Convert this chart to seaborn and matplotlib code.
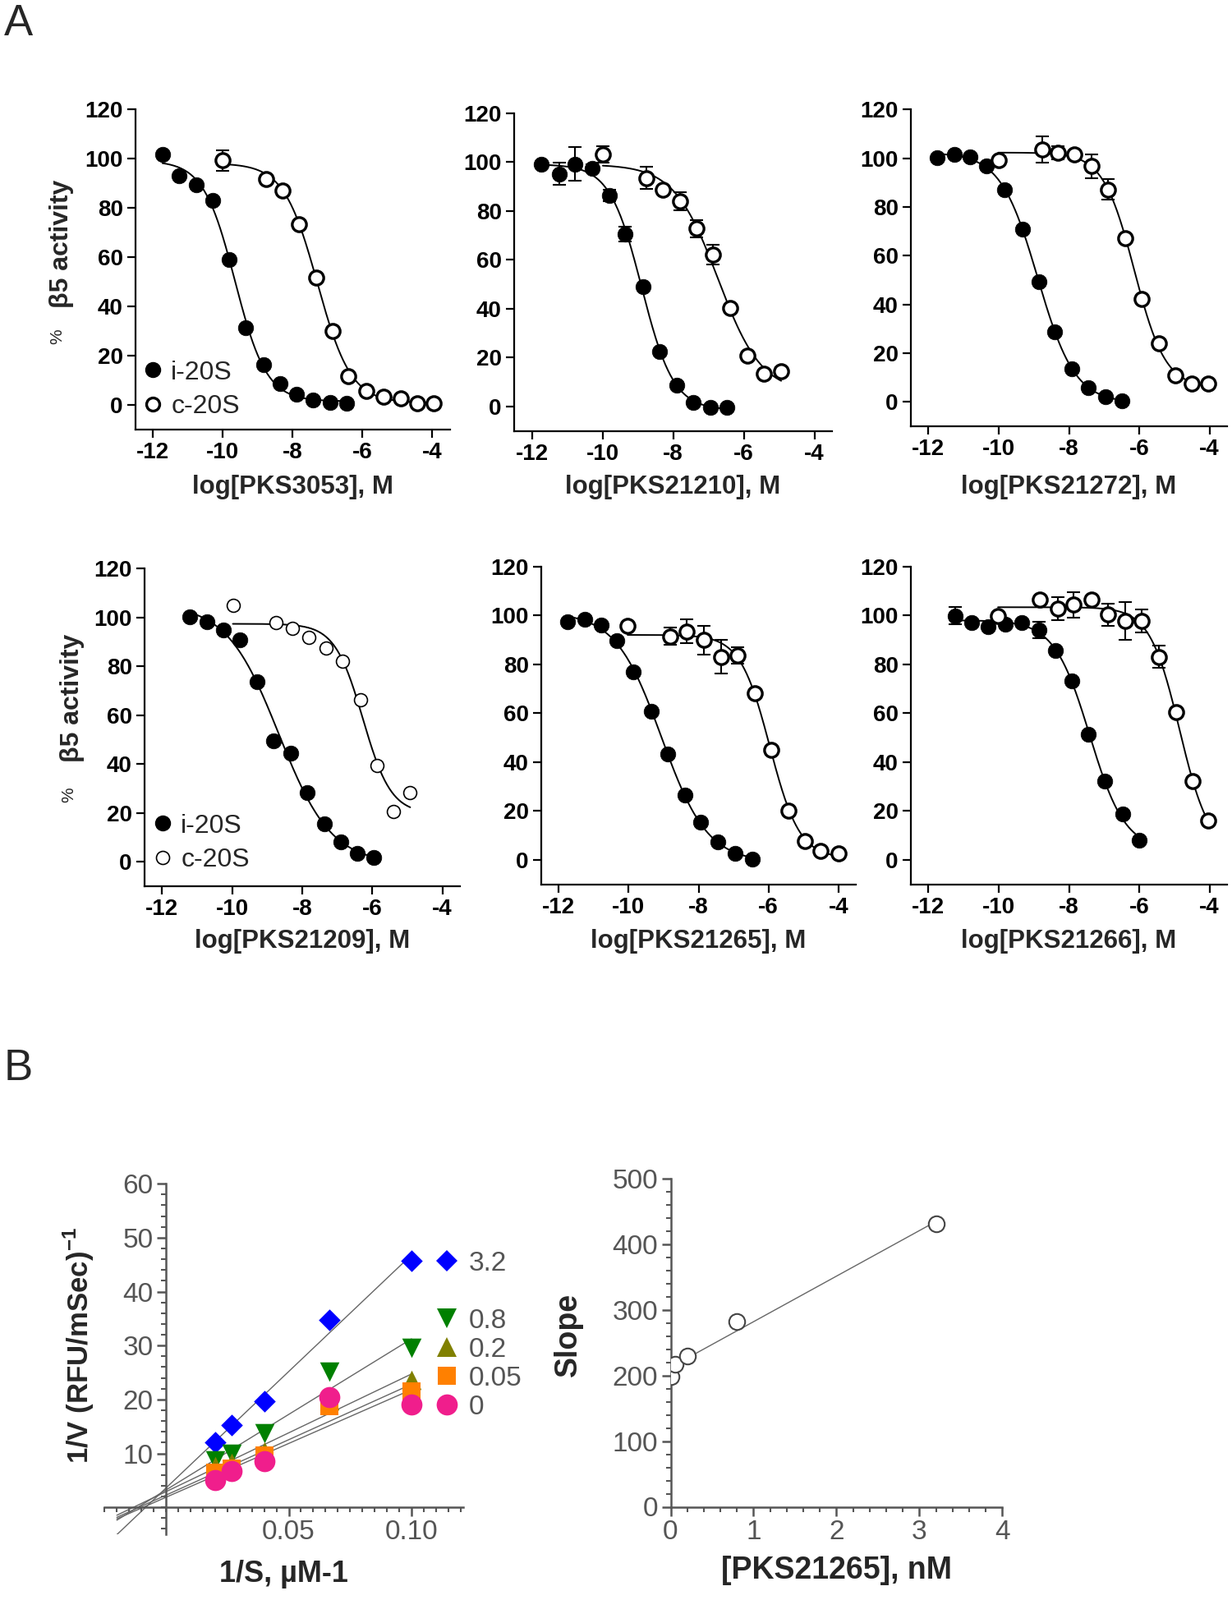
import numpy as np
import pandas as pd
import matplotlib
matplotlib.use("Agg")
import matplotlib.pyplot as plt
import seaborn as sns
from matplotlib.lines import Line2D
from matplotlib.ticker import MultipleLocator, FixedLocator, FixedFormatter

sns.set_theme(style="ticks")
plt.rcParams["font.family"] = ["Liberation Sans", "DejaVu Sans"]
plt.rcParams["axes.unicode_minus"] = False
plt.rcParams["mathtext.fontset"] = "custom"
plt.rcParams["mathtext.rm"] = "Liberation Sans"
plt.rcParams["mathtext.bf"] = "Liberation Sans:bold"

# ---------------- Panel A data (log[compound], % beta5 activity) ----------------
compounds = ["PKS3053", "PKS21210", "PKS21272", "PKS21209", "PKS21265", "PKS21266"]

pks3053_xi = [-11.73, -11.26, -10.77, -10.28, -9.81, -9.34, -8.83, -8.36, -7.89, -7.42, -6.93, -6.46]
pks3053_yi = [101.6, 93.0, 89.3, 83.0, 59.0, 31.3, 16.2, 8.4, 4.3, 1.9, 0.8, 0.4]
pks3053_ei = [0, 0, 0, 0, 0, 0, 0, 0, 0, 0, 0, 0]
pks3053_xc = [-10.01, -8.75, -8.28, -7.81, -7.32, -6.85, -6.40, -5.89, -5.40, -4.91, -4.44, -3.97]
pks3053_yc = [99.3, 91.6, 87.1, 73.4, 51.6, 29.9, 11.6, 5.7, 3.2, 2.6, 0.7, 0.4]
pks3053_ec = [4.1, 0, 0, 0, 0, 0, 0, 0, 0, 0, 0, 0]

pks21210_xi = [-11.74, -11.23, -10.77, -10.30, -9.81, -9.35, -8.85, -8.38, -7.90, -7.43, -6.95, -6.47]
pks21210_yi = [99.2, 95.2, 99.2, 97.5, 86.3, 70.6, 49.0, 22.4, 8.6, 1.7, -0.2, -0.2]
pks21210_ei = [0, 4.6, 6.8, 1.5, 2.5, 3.1, 0, 0, 0, 0, 0, 0]
pks21210_xc = [-9.99, -8.75, -8.29, -7.81, -7.34, -6.87, -6.39, -5.90, -5.43, -4.94]
pks21210_yc = [103.1, 93.5, 88.8, 84.0, 72.8, 62.2, 40.3, 20.7, 13.4, 14.6]
pks21210_ec = [3.4, 4.5, 1.0, 3.8, 3.6, 4.0, 0, 1.5, 1.0, 1.5]

pks21272_xi = [-11.75, -11.27, -10.81, -10.35, -9.84, -9.33, -8.85, -8.40, -7.91, -7.44, -6.95, -6.49]
pks21272_yi = [100.3, 101.4, 100.6, 96.8, 87.2, 70.9, 49.4, 28.7, 13.7, 5.9, 2.3, 0.3]
pks21272_ei = [0, 0, 0, 0, 0, 0, 0, 0, 0, 0, 0, 0]
pks21272_xc = [-10.01, -8.77, -8.32, -7.85, -7.36, -6.88, -6.41, -5.92, -5.44, -4.97, -4.50, -4.03]
pks21272_yc = [99.2, 103.7, 102.3, 101.4, 96.7, 87.2, 67.2, 42.2, 23.9, 10.8, 7.4, 7.4]
pks21272_ec = [0, 5.4, 2.8, 0, 4.9, 4.2, 0, 0, 0, 0, 0, 0]

pks21209_xi = [-11.22, -10.72, -10.26, -9.77, -9.30, -8.82, -8.33, -7.87, -7.37, -6.91, -6.43, -5.95]
pks21209_yi = [100.4, 98.4, 94.9, 90.8, 73.7, 49.5, 44.5, 28.3, 15.6, 8.1, 3.5, 1.7]
pks21209_ei = [0, 0, 0, 0, 0, 0, 0, 0, 0, 0, 0, 0]
pks21209_xc = [-9.98, -8.75, -8.28, -7.81, -7.33, -6.85, -6.34, -5.87, -5.41, -4.92]
pks21209_yc = [105.1, 98.0, 95.5, 92.0, 87.4, 82.2, 66.5, 39.6, 20.6, 28.4]
pks21209_ec = [0, 0, 0, 0, 0, 0, 0, 0, 0, 0]

pks21265_xi = [-11.75, -11.26, -10.79, -10.34, -9.86, -9.36, -8.88, -8.38, -7.94, -7.44, -6.96, -6.47]
pks21265_yi = [97.5, 98.3, 96.1, 89.6, 76.9, 60.7, 43.4, 26.4, 15.4, 7.5, 2.6, 0.3]
pks21265_ei = [0, 0, 0, 0, 0, 0, 0, 0, 0, 0, 0, 0]
pks21265_xc = [-10.03, -8.80, -8.33, -7.84, -7.35, -6.88, -6.39, -5.92, -5.43, -4.96, -4.50, -4.00]
pks21265_yc = [95.7, 91.4, 93.4, 89.9, 83.0, 83.6, 68.3, 44.9, 20.0, 7.8, 3.8, 2.6]
pks21265_ec = [0, 3.5, 4.9, 5.8, 6.9, 3.2, 0, 0, 0, 0, 0, 0]

pks21266_xi = [-11.24, -10.76, -10.30, -9.82, -9.34, -8.85, -8.38, -7.91, -7.45, -6.98, -6.48, -6.01]
pks21266_yi = [99.8, 97.2, 95.4, 96.5, 96.9, 94.0, 85.7, 73.2, 51.4, 32.4, 18.8, 8.1]
pks21266_ei = [3.5, 0, 0, 0, 0, 3.5, 0, 0, 0, 0, 0, 0]
pks21266_xc = [-10.02, -8.82, -8.31, -7.86, -7.35, -6.88, -6.40, -5.93, -5.45, -4.96, -4.49, -4.03]
pks21266_yc = [99.8, 106.5, 102.7, 104.4, 106.5, 100.3, 97.7, 97.7, 83.0, 60.5, 32.1, 16.0]
pks21266_ec = [0, 0, 4.8, 5.2, 0, 4.5, 7.8, 4.6, 4.5, 0, 0, 0]

panel_data = [
    (pks3053_xi, pks3053_yi, pks3053_ei, pks3053_xc, pks3053_yc, pks3053_ec),
    (pks21210_xi, pks21210_yi, pks21210_ei, pks21210_xc, pks21210_yc, pks21210_ec),
    (pks21272_xi, pks21272_yi, pks21272_ei, pks21272_xc, pks21272_yc, pks21272_ec),
    (pks21209_xi, pks21209_yi, pks21209_ei, pks21209_xc, pks21209_yc, pks21209_ec),
    (pks21265_xi, pks21265_yi, pks21265_ei, pks21265_xc, pks21265_yc, pks21265_ec),
    (pks21266_xi, pks21266_yi, pks21266_ei, pks21266_xc, pks21266_yc, pks21266_ec),
]

# ---------------- Panel B data ----------------
inv_S = [0.02, 0.0267, 0.04, 0.0667, 0.10]          # 1/S, uM-1
inhibitor_nM = ["3.2", "0.8", "0.2", "0.05", "0"]
v_3p2 = [12.0, 15.3, 19.6, 34.8, 45.7]
v_0p8 = [8.7, 9.9, 13.8, 25.1, 29.6]
v_0p2 = [7.6, 8.3, 10.4, 19.8, 23.7]
v_0p05 = [6.4, 7.2, 9.6, 18.7, 21.5]
v_0 = [5.1, 6.7, 8.5, 20.5, 19.1]
lb_series = [v_3p2, v_0p8, v_0p2, v_0p05, v_0]
lb_colors = ["#0000FF", "#008000", "#808000", "#FF8000", "#F01E8C"]
lb_markers = ["D", "v", "^", "s", "o"]
lb_sizes = [13.5, 17, 17, 16.5, 18.5]

slope_conc = [0, 0.05, 0.2, 0.8, 3.2]   # [PKS21265], nM
slope_vals = [198, 217, 230, 282, 431]

# ---------------- helpers ----------------
W, H = 1500, 1948
fig = plt.figure(figsize=(W / 100, H / 100), dpi=100)


def add_ax(l, r, t, b):
    return fig.add_axes([l / W, 1 - b / H, (r - l) / W, (b - t) / H])


def fit4pl(x, y):
    x = np.asarray(x, float)
    y = np.asarray(y, float)
    cs = np.arange(-11.5, -3.0, 0.01)
    hs = np.arange(0.3, 3.01, 0.02)
    C, Hh = np.meshgrid(cs, hs, indexing="ij")
    f = 1.0 / (1.0 + 10 ** ((x[None, None, :] - C[..., None]) * Hh[..., None]))
    fm = f.mean(-1, keepdims=True)
    ym = y.mean()
    df = f - fm
    dy = y - ym
    b = (df * dy).sum(-1) / (df ** 2).sum(-1)
    sse = ((dy - b[..., None] * df) ** 2).sum(-1)
    i, j = np.unravel_index(np.nanargmin(sse), sse.shape)
    c, h, bb = C[i, j], Hh[i, j], b[i, j]
    a = ym - bb * fm[i, j, 0]
    return lambda xx: a + bb / (1.0 + 10 ** ((xx - c) * h))


# axes rectangles (left, right, top(y=120), bottom(y=-10)) in pixels
A_rects = [
    (165, 547.5, 133.3, 522.6),
    (626, 1013, 137.7, 524.8),
    (1109, 1494, 133.3, 519.0),
    (176, 560, 692.4, 1079.2),
    (659, 1042, 689.6, 1076.8),
    (1109, 1494, 689.6, 1076.8),
]

for k, (rect, data, name) in enumerate(zip(A_rects, panel_data, compounds)):
    ax = add_ax(*rect)
    ax.patch.set_alpha(0)
    xi, yi, ei, xc, yc, ec = [np.asarray(d, float) for d in data]
    thin = (k == 3)
    for xs, ys in ((xi, yi), (xc, yc)):
        fn = fit4pl(xs, ys)
        xx = np.linspace(xs.min(), xs.max(), 300)
        sns.lineplot(x=xx, y=fn(xx), ax=ax, color="black", lw=1.4,
                     estimator=None, sort=False, zorder=2)
    for xs, ys, es in ((xi, yi, ei), (xc, yc, ec)):
        m = es > 0
        if m.any():
            ax.errorbar(xs[m], ys[m], yerr=es[m], fmt="none", ecolor="black",
                        elinewidth=1.5, capsize=6, capthick=1.5, zorder=3)
    sns.scatterplot(x=xi, y=yi, ax=ax, color="black", marker="o", s=180,
                    edgecolor="black", linewidth=0.5, zorder=4)
    sns.scatterplot(x=xc, y=yc, ax=ax, color="white", marker="o",
                    s=130 if thin else 155, edgecolor="black",
                    linewidth=1.2 if thin else 2.4, zorder=5)
    ax.set_xlim(-12.5, -3.5)
    ax.set_ylim(-10, 120)
    ax.set_xticks([-12, -10, -8, -6, -4])
    ax.set_yticks([0, 20, 40, 60, 80, 100, 120])
    sns.despine(ax=ax)
    for s in ("left", "bottom"):
        ax.spines[s].set_linewidth(1.6)
        ax.spines[s].set_color("black")
    ax.tick_params(length=7, width=1.6, labelsize=20, pad=4, colors="black")
    for t in ax.get_xticklabels() + ax.get_yticklabels():
        t.set_fontweight("bold")
    ax.set_xlabel("")
    ax.set_ylabel("")
    cx = (rect[0] + rect[1]) / 2
    ylab = 593 if k < 3 else 1146
    fig.text(cx / W, 1 - ylab / H, f"log[{name}], M", ha="center", va="center",
             fontsize=22.5, fontweight="bold")
    if k in (0, 3):
        if k == 0:
            lx, lb, yx, yy, px, py = 173, 510, 75, 297, 70, 410
        else:
            lx, lb, yx, yy, px, py = 185, 1062, 88, 850, 84, 968
        handles = [
            Line2D([], [], marker="o", ls="none", ms=13, mfc="black", mec="black"),
            Line2D([], [], marker="o", ls="none", ms=11.5, mfc="white", mec="black",
                   mew=1.2 if thin else 2.4),
        ]
        ax.legend(handles, ["i-20S", "c-20S"], loc="lower left",
                  bbox_to_anchor=(lx / W, 1 - lb / H), bbox_transform=fig.transFigure,
                  frameon=False, fontsize=23, handlelength=0.8, handletextpad=0.3,
                  labelspacing=0.36, borderaxespad=0, borderpad=0)
        fig.text(yx / W, 1 - yy / H, "β5 activity", rotation=90, ha="center",
                 va="center", fontsize=23, fontweight="bold")
        fig.text(px / W, 1 - py / H, "%", rotation=90, ha="center", va="center",
                 fontsize=15)

fig.text(5 / W, 1 - 4 / H, "A", fontsize=38, ha="left", va="top")
fig.text(5 / W, 1 - 1276 / H, "B", fontsize=38, ha="left", va="top")

# ---------------- Panel B left: Lineweaver-Burk ----------------
grey = "#555555"
axb = add_ax(127.3, 563.8, 1441.2, 1868.0)
axb.patch.set_alpha(0)
xs = np.asarray(inv_S)
xline = np.linspace(-0.02, 0.10, 50)
for ys in lb_series:
    p = np.polyfit(xs, np.asarray(ys), 1)
    sns.lineplot(x=xline, y=np.polyval(p, xline), ax=axb, color="#666666", lw=1.0,
                 estimator=None, sort=False, zorder=2)
for ys, col, mk, sz in zip(lb_series, lb_colors, lb_markers, lb_sizes):
    sns.scatterplot(x=xs, y=ys, ax=axb, color=col, marker=mk, s=sz ** 2,
                    edgecolor=col, linewidth=0, zorder=4)
axb.set_xlim(-0.025, 0.121)
axb.set_ylim(-5, 60)
axb.spines["left"].set_position(("data", 0))
axb.spines["bottom"].set_position(("data", 0))
axb.spines["top"].set_visible(False)
axb.spines["right"].set_visible(False)
for s in ("left", "bottom"):
    axb.spines[s].set_color(grey)
    axb.spines[s].set_linewidth(1.8)
axb.xaxis.set_major_locator(FixedLocator([0.05, 0.10]))
axb.xaxis.set_major_formatter(FixedFormatter(["0.05", "0.10"]))
axb.xaxis.set_minor_locator(MultipleLocator(0.005))
axb.yaxis.set_major_locator(FixedLocator([10, 20, 30, 40, 50, 60]))
axb.yaxis.set_minor_locator(MultipleLocator(2))
axb.tick_params(which="major", length=8, width=1.8, colors=grey, labelsize=24,
                labelcolor=grey, pad=3)
axb.tick_params(which="minor", length=4, width=1.5, colors=grey)
axb.set_xlabel("")
axb.set_ylabel("")
leg_handles = []
leg_labels = []
for i, (lab, col, mk, sz) in enumerate(zip(inhibitor_nM, lb_colors, lb_markers, lb_sizes)):
    leg_handles.append(Line2D([], [], ls="none", marker=mk, color=col, ms=sz, mew=0))
    leg_labels.append(lab)
    if i == 0:
        leg_handles.append(Line2D([], [], ls="none"))
        leg_labels.append(" ")
leg = axb.legend(leg_handles, leg_labels, loc="upper left",
                 bbox_to_anchor=(527 / W, 1 - 1523 / H), bbox_transform=fig.transFigure,
                 frameon=False, fontsize=24, handlelength=1.0, handletextpad=0.3,
                 labelspacing=0.12, borderaxespad=0, borderpad=0)
for t in leg.get_texts():
    t.set_color(grey)
fig.text(345 / W, 1 - 1917 / H, "1/S, µM-1", ha="center", va="center",
         fontsize=26, fontweight="bold")
fig.text(96 / W, 1 - 1638 / H, r"1/V (RFU/mSec)$^{\mathbf{-1}}$", rotation=90,
         ha="center", va="center", fontsize=25, fontweight="bold")

# ---------------- Panel B right: replot of slopes ----------------
axs = add_ax(816.5, 1220.3, 1435, 1834.5)
axs.patch.set_alpha(0)
cx = np.asarray(slope_conc)
sy = np.asarray(slope_vals, float)
p = np.polyfit(cx, sy, 1)
xl = np.linspace(0, 3.2, 50)
sns.lineplot(x=xl, y=np.polyval(p, xl), ax=axs, color="#666666", lw=1.0,
             estimator=None, sort=False, zorder=2)
sns.scatterplot(x=cx, y=sy, ax=axs, color="white", marker="o", s=14 ** 2,
                edgecolor="#444444", linewidth=1.5, zorder=4)
axs.set_xlim(0, 4)
axs.set_ylim(0, 500)
axs.spines["top"].set_visible(False)
axs.spines["right"].set_visible(False)
for s in ("left", "bottom"):
    axs.spines[s].set_color(grey)
    axs.spines[s].set_linewidth(1.8)
axs.xaxis.set_major_locator(MultipleLocator(1))
axs.xaxis.set_minor_locator(MultipleLocator(0.2))
axs.yaxis.set_major_locator(MultipleLocator(100))
axs.yaxis.set_minor_locator(MultipleLocator(20))
axs.tick_params(which="major", length=8, width=1.8, colors=grey, labelsize=24,
                labelcolor=grey, pad=3)
axs.tick_params(which="minor", length=4, width=1.5, colors=grey)
axs.set_xlabel("")
axs.set_ylabel("")
fig.text(1018 / W, 1 - 1912 / H, "[PKS21265], nM", ha="center", va="center",
         fontsize=27, fontweight="bold")
fig.text(692 / W, 1 - 1625 / H, "Slope", rotation=90, ha="center", va="center",
         fontsize=27, fontweight="bold")

fig.savefig("out.png", dpi=100, facecolor="white")
